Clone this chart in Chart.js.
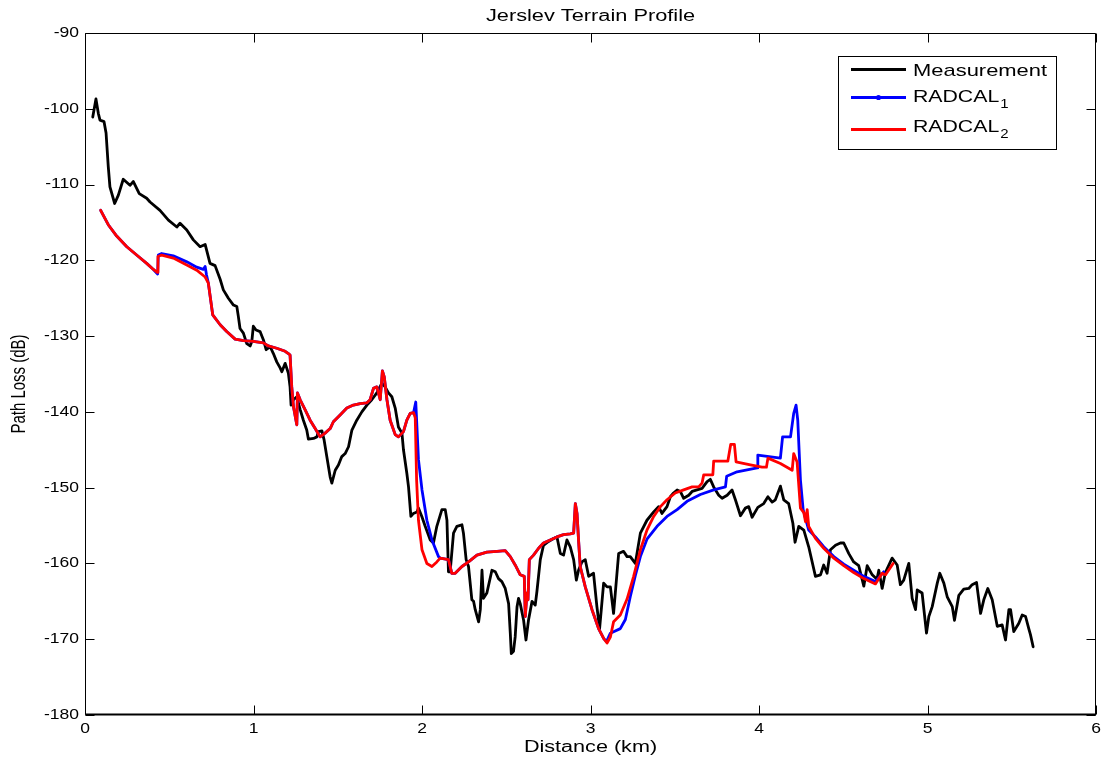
<!DOCTYPE html>
<html>
<head>
<meta charset="utf-8">
<title>Jerslev Terrain Profile</title>
<script src="https://cdn.jsdelivr.net/npm/chart.js@4.4.1/dist/chart.umd.min.js"></script>
<style>
  html, body { margin: 0; padding: 0; background: #fff; }
  #wrap { width: 1109px; height: 765px; }
</style>
</head>
<body>
<div id="wrap"><canvas id="c" width="1109" height="765"></canvas></div>
<script>
// Measured path loss along the Jerslev route
const measDist = [
  0.046,0.065,0.079,0.089,0.113,0.125,0.138,0.148,0.176,0.198,
  0.227,0.267,0.287,0.322,0.366,0.386,0.445,0.495,0.545,0.564,
  0.604,0.643,0.683,0.713,0.742,0.772,0.802,0.821,0.851,0.881,
  0.901,0.910,0.920,0.940,0.960,0.980,0.990,0.999,1.015,1.039,
  1.059,1.075,1.099,1.118,1.138,1.158,1.168,1.188,1.207,1.217,
  1.223,1.237,1.257,1.277,1.296,1.316,1.326,1.356,1.376,1.385,
  1.406,1.419,1.435,1.455,1.465,1.485,1.504,1.524,1.544,1.564,
  1.584,1.613,1.643,1.673,1.702,1.732,1.762,1.781,1.801,1.821,
  1.841,1.860,1.881,1.890,1.910,1.920,1.934,1.949,1.970,1.979,
  1.999,2.019,2.049,2.068,2.088,2.118,2.138,2.148,2.157,2.167,
  2.187,2.207,2.237,2.246,2.262,2.276,2.296,2.306,2.316,2.336,
  2.346,2.356,2.365,2.385,2.415,2.435,2.454,2.474,2.494,2.514,
  2.524,2.530,2.543,2.553,2.564,2.573,2.583,2.603,2.617,2.632,
  2.653,2.672,2.682,2.702,2.721,2.751,2.781,2.801,2.821,2.840,
  2.860,2.880,2.900,2.916,2.929,2.949,2.969,2.989,3.018,3.038,
  3.054,3.078,3.098,3.118,3.137,3.167,3.196,3.217,3.236,3.266,
  3.296,3.335,3.375,3.404,3.424,3.454,3.474,3.493,3.514,3.533,
  3.553,3.583,3.603,3.632,3.662,3.692,3.711,3.731,3.761,3.781,
  3.811,3.840,3.860,3.890,3.919,3.939,3.959,3.993,4.028,4.053,
  4.078,4.097,4.127,4.147,4.176,4.201,4.214,4.236,4.266,4.295,
  4.335,4.365,4.384,4.404,4.424,4.454,4.483,4.503,4.533,4.562,
  4.592,4.622,4.642,4.672,4.700,4.711,4.731,4.750,4.790,4.820,
  4.839,4.859,4.889,4.909,4.929,4.939,4.968,4.994,5.008,5.028,
  5.058,5.073,5.097,5.117,5.147,5.160,5.186,5.215,5.245,5.265,
  5.291,5.315,5.334,5.358,5.384,5.414,5.443,5.463,5.483,5.493,
  5.512,5.542,5.562,5.582,5.601,5.611,5.627
];
const measLoss = [
  -101.1,-98.7,-100.6,-101.5,-101.7,-103.2,-107.6,-110.3,-112.5,-111.4,
  -109.3,-110.1,-109.6,-111.2,-111.8,-112.3,-113.4,-114.7,-115.6,-115.1,
  -116.0,-117.3,-118.2,-117.9,-120.4,-120.7,-122.5,-123.9,-125.0,-125.9,
  -126.1,-127.4,-129.0,-129.6,-131.0,-131.3,-130.7,-128.7,-129.2,-129.4,
  -130.5,-131.8,-131.4,-132.3,-133.4,-134.2,-134.7,-133.6,-134.9,-136.7,
  -139.1,-138.4,-138.0,-139.7,-141.1,-142.4,-143.6,-143.5,-143.3,-142.6,
  -142.5,-143.7,-145.9,-148.6,-149.4,-147.7,-147.0,-145.9,-145.5,-144.6,
  -142.4,-141.1,-140.0,-139.1,-138.4,-137.5,-136.2,-136.7,-137.5,-138.0,
  -139.5,-142.0,-142.8,-145.0,-148.1,-149.9,-153.8,-153.4,-153.2,-152.7,
  -153.8,-155.1,-156.9,-157.3,-155.1,-152.9,-152.9,-154.3,-161.1,-161.1,
  -156.0,-155.1,-154.9,-156.0,-159.5,-160.4,-164.8,-165.0,-166.1,-167.7,
  -166.1,-160.9,-164.6,-163.9,-160.9,-161.1,-162.0,-162.4,-163.3,-165.3,
  -169.2,-171.9,-171.6,-169.7,-165.7,-164.6,-165.3,-167.5,-170.1,-167.5,
  -165.0,-165.5,-163.7,-159.5,-157.6,-157.1,-156.7,-156.5,-158.7,-158.9,
  -156.9,-157.8,-159.5,-162.2,-160.9,-159.8,-159.5,-161.7,-161.3,-165.7,
  -168.6,-162.6,-163.1,-163.1,-166.6,-158.7,-158.4,-159.1,-159.1,-160.0,
  -156.0,-154.3,-153.2,-152.5,-153.4,-152.5,-151.2,-150.7,-150.3,-150.5,
  -151.4,-151.0,-150.5,-150.3,-150.1,-149.2,-148.9,-149.9,-151.0,-151.4,
  -151.0,-150.3,-151.6,-153.7,-152.7,-152.5,-153.9,-152.6,-152.1,-151.2,
  -151.9,-151.6,-149.8,-151.6,-152.1,-154.7,-157.2,-155.1,-155.6,-157.8,
  -161.7,-161.5,-160.2,-161.3,-158.2,-157.6,-157.3,-157.3,-158.7,-159.8,
  -160.3,-163.0,-160.3,-161.5,-162.1,-160.9,-163.3,-161.2,-159.3,-160.2,
  -162.8,-162.2,-160.0,-164.6,-166.1,-163.5,-163.9,-169.2,-167.0,-165.7,
  -162.6,-161.3,-162.6,-164.4,-165.7,-167.5,-164.2,-163.4,-163.3,-162.8,
  -162.5,-166.6,-164.8,-163.3,-164.8,-168.3,-168.1,-170.1,-166.1,-166.1,
  -169.0,-167.9,-166.8,-167.0,-168.6,-169.4,-171.0
];

// RADCAL prediction, variant 1
const rad1Dist = [
  0.093,0.138,0.188,0.248,0.317,0.366,0.406,0.431,0.435,0.455,
  0.524,0.604,0.663,0.702,0.713,0.721,0.732,0.758,0.802,0.841,
  0.891,0.940,0.999,1.059,1.088,1.138,1.188,1.207,1.217,1.227,
  1.237,1.257,1.261,1.277,1.306,1.336,1.366,1.395,1.425,1.455,
  1.474,1.514,1.554,1.593,1.633,1.673,1.692,1.712,1.732,1.752,
  1.765,1.776,1.792,1.811,1.841,1.860,1.890,1.910,1.930,1.950,
  1.963,1.979,2.000,2.029,2.059,2.098,2.108,2.157,2.177,2.197,
  2.237,2.276,2.326,2.385,2.445,2.494,2.524,2.553,2.583,2.607,
  2.613,2.623,2.629,2.637,2.662,2.692,2.721,2.761,2.801,2.840,
  2.880,2.900,2.910,2.920,2.929,2.939,2.969,3.009,3.048,3.078,
  3.095,3.118,3.137,3.177,3.207,3.236,3.266,3.296,3.335,3.395,
  3.454,3.514,3.573,3.652,3.731,3.801,3.808,3.870,3.989,3.993,
  4.127,4.140,4.187,4.206,4.220,4.230,4.246,4.262,4.295,4.335,
  4.384,4.444,4.503,4.562,4.622,4.691,4.740
];
const rad1Loss = [
  -113.4,-115.3,-116.8,-118.2,-119.5,-120.4,-121.2,-121.8,-119.3,-119.1,
  -119.4,-120.2,-120.9,-121.2,-120.8,-121.9,-123.0,-127.2,-128.5,-129.4,
  -130.4,-130.6,-130.7,-130.9,-131.3,-131.6,-132.0,-132.3,-132.5,-136.7,
  -139.3,-141.7,-137.5,-138.4,-139.7,-141.1,-142.2,-143.3,-142.8,-142.2,
  -141.3,-140.4,-139.5,-139.1,-138.9,-138.8,-138.4,-136.9,-136.7,-138.4,
  -134.6,-135.4,-138.4,-141.1,-143.0,-143.3,-142.6,-141.1,-140.2,-140.1,
  -138.7,-146.3,-150.3,-154.3,-156.9,-159.1,-159.3,-159.5,-161.3,-161.3,
  -160.4,-159.8,-158.9,-158.5,-158.4,-158.3,-159.1,-160.2,-161.5,-161.7,
  -167.0,-163.9,-164.8,-159.5,-158.9,-158.0,-157.3,-156.9,-156.5,-156.2,
  -156.1,-156.0,-152.1,-153.4,-156.9,-160.4,-163.1,-166.1,-168.6,-169.9,
  -170.3,-169.2,-169.0,-168.6,-167.4,-164.4,-161.6,-159.1,-156.8,-155.1,
  -153.8,-152.9,-151.8,-150.9,-150.3,-149.9,-148.5,-147.9,-147.4,-145.7,
  -146.1,-143.3,-143.3,-140.2,-139.1,-141.1,-149.0,-152.9,-155.6,-156.5,
  -157.8,-159.1,-160.1,-160.9,-161.7,-162.4,-161.1
];

// RADCAL prediction, variant 2
const rad2Dist = [
  0.093,0.138,0.188,0.248,0.317,0.366,0.406,0.429,0.433,0.455,
  0.524,0.604,0.663,0.713,0.732,0.758,0.802,0.841,0.891,0.940,
  0.999,1.059,1.088,1.138,1.188,1.207,1.217,1.227,1.237,1.257,
  1.261,1.277,1.306,1.336,1.366,1.395,1.425,1.455,1.474,1.514,
  1.554,1.593,1.633,1.673,1.692,1.712,1.732,1.752,1.765,1.776,
  1.792,1.811,1.841,1.860,1.890,1.910,1.930,1.950,1.960,1.968,
  1.979,2.000,2.029,2.059,2.088,2.108,2.157,2.177,2.197,2.237,
  2.276,2.326,2.385,2.445,2.494,2.524,2.553,2.583,2.607,2.613,
  2.623,2.629,2.637,2.662,2.692,2.721,2.761,2.801,2.840,2.880,
  2.900,2.910,2.920,2.929,2.939,2.969,3.009,3.048,3.078,3.098,
  3.118,3.137,3.177,3.217,3.256,3.296,3.335,3.375,3.415,3.454,
  3.503,3.553,3.603,3.642,3.662,3.672,3.726,3.731,3.815,3.832,
  3.854,3.864,3.949,4.018,4.044,4.053,4.127,4.197,4.206,4.226,
  4.246,4.266,4.276,4.286,4.295,4.335,4.384,4.444,4.503,4.562,
  4.622,4.691,4.731,4.751,4.796
];
const rad2Loss = [
  -113.4,-115.3,-116.8,-118.2,-119.5,-120.4,-121.2,-121.6,-119.5,-119.3,
  -119.7,-120.6,-121.3,-122.2,-123.0,-127.2,-128.5,-129.4,-130.4,-130.6,
  -130.7,-130.9,-131.3,-131.6,-132.0,-132.3,-132.5,-136.7,-139.3,-141.7,
  -137.5,-138.4,-139.7,-141.1,-142.2,-143.3,-142.8,-142.2,-141.3,-140.4,
  -139.5,-139.1,-138.9,-138.8,-138.4,-136.9,-136.7,-138.4,-134.6,-135.4,
  -138.4,-141.1,-143.0,-143.3,-142.6,-141.1,-140.2,-140.1,-140.8,-149.0,
  -154.3,-158.2,-160.0,-160.4,-159.8,-159.3,-159.5,-161.3,-161.3,-160.4,
  -159.8,-158.9,-158.5,-158.4,-158.3,-159.1,-160.2,-161.5,-161.7,-167.0,
  -163.9,-164.8,-159.5,-158.9,-158.0,-157.3,-156.9,-156.5,-156.2,-156.1,
  -156.0,-152.1,-153.4,-156.9,-160.4,-163.1,-166.1,-168.6,-169.9,-170.5,
  -169.7,-167.7,-166.8,-164.7,-161.7,-158.2,-155.6,-153.8,-152.5,-151.6,
  -150.7,-150.3,-149.9,-149.9,-149.4,-148.3,-148.3,-146.5,-146.5,-144.3,
  -144.3,-146.6,-147.0,-147.3,-147.3,-146.1,-146.8,-147.7,-145.5,-146.6,
  -152.7,-153.3,-154.5,-152.9,-155.1,-156.7,-158.0,-159.3,-160.3,-161.2,
  -162.0,-162.7,-161.3,-161.5,-160.0
];

// Axis ticks
const xTicks = [0, 1, 2, 3, 4, 5, 6];
const yTicks = [-180, -170, -160, -150, -140, -130, -120, -110, -100, -90];

const FONT = '"Liberation Sans", Arial, Helvetica, sans-serif';

function toPoints(xs, ys) {
  return xs.map((x, i) => ({ x: x, y: ys[i] }));
}

// text drawn with a horizontal stretch factor sx
function wideText(ctx, str, x, y, size, align, sx) {
  ctx.save();
  ctx.translate(x, y);
  ctx.scale(sx, 1);
  ctx.font = size + 'px ' + FONT;
  ctx.textAlign = align;
  ctx.textBaseline = 'middle';
  ctx.fillStyle = '#000';
  ctx.fillText(str, 0, 0);
  ctx.restore();
}

// label with a numeric subscript, left aligned
function subText(ctx, main, sub, x, y, size, subSize, sx) {
  ctx.save();
  ctx.font = size + 'px ' + FONT;
  const w = ctx.measureText(main).width * sx;
  ctx.restore();
  wideText(ctx, main, x, y, size, 'left', sx);
  wideText(ctx, sub, x + w + 1, y + 7, subSize, 'left', sx);
}

const axesDecor = {
  id: 'axesDecor',
  afterDraw(chart) {
    const ctx = chart.ctx;
    const a = chart.chartArea;
    const xs = chart.scales.x, ys = chart.scales.y;
    const L = Math.round(a.left) + 0.5, R = Math.round(a.right) - 0.5;
    const T = Math.round(a.top) + 0.5, B = Math.round(a.bottom) - 0.5;
    const tl = 9;

    ctx.save();
    ctx.strokeStyle = '#000';
    ctx.lineWidth = 1;
    ctx.beginPath();
    ctx.rect(L, T, R - L, B - T);
    ctx.stroke();
    // heavier baseline
    ctx.lineWidth = 2;
    ctx.beginPath();
    ctx.moveTo(L, B); ctx.lineTo(R + 0.5, B);
    ctx.stroke();

    // inward ticks on all four sides
    ctx.lineWidth = 1;
    ctx.beginPath();
    xTicks.forEach(v => {
      const px = Math.round(xs.getPixelForValue(v)) + 0.5;
      ctx.moveTo(px, B); ctx.lineTo(px, B - tl);
      ctx.moveTo(px, T); ctx.lineTo(px, T + tl);
    });
    yTicks.forEach(v => {
      const py = Math.round(ys.getPixelForValue(v)) + 0.5;
      ctx.moveTo(L, py); ctx.lineTo(L + tl, py);
      ctx.moveTo(R, py); ctx.lineTo(R - tl, py);
    });
    ctx.stroke();
    ctx.restore();

    // tick labels
    xTicks.forEach(v => {
      wideText(ctx, String(v), xs.getPixelForValue(v), a.bottom + 14, 14, 'center', 1.25);
    });
    yTicks.forEach(v => {
      wideText(ctx, String(v), a.left - 6, ys.getPixelForValue(v), 14, 'right', 1.25);
    });

    // title and axis titles
    const cx = (a.left + a.right) / 2;
    wideText(ctx, 'Jerslev Terrain Profile', cx, 17, 16, 'center', 1.36);
    wideText(ctx, 'Distance (km)', cx, a.bottom + 33, 16, 'center', 1.35);

    ctx.save();
    ctx.translate(20, 384);
    ctx.rotate(-Math.PI / 2);
    ctx.scale(1, 1.3);
    ctx.font = '15px ' + FONT;
    ctx.textAlign = 'center';
    ctx.textBaseline = 'middle';
    ctx.fillStyle = '#000';
    ctx.fillText('Path Loss (dB)', 0, 0);
    ctx.restore();

    // legend
    const bx = 838.5, by = 56.5, bw = 218, bh = 93;
    ctx.save();
    ctx.fillStyle = '#fff';
    ctx.fillRect(bx, by, bw, bh);
    ctx.strokeStyle = '#000';
    ctx.lineWidth = 1;
    ctx.strokeRect(bx, by, bw, bh);
    const rows = [
      { color: '#000000', ly: 69.5, ty: 71, dot: false },
      { color: '#0000ff', ly: 97.5, ty: 97.5, dot: true },
      { color: '#ff0000', ly: 129.5, ty: 127.5, dot: false }
    ];
    rows.forEach(r => {
      ctx.strokeStyle = r.color;
      ctx.lineWidth = 2.8;
      ctx.beginPath();
      ctx.moveTo(851, r.ly); ctx.lineTo(906, r.ly);
      ctx.stroke();
      if (r.dot) {
        ctx.fillStyle = r.color;
        ctx.beginPath();
        ctx.arc(878.5, r.ly, 2.6, 0, Math.PI * 2);
        ctx.fill();
      }
    });
    ctx.restore();
    wideText(ctx, 'Measurement', 913, rows[0].ty, 17, 'left', 1.29);
    subText(ctx, 'RADCAL', '1', 913, rows[1].ty, 17, 12, 1.25);
    subText(ctx, 'RADCAL', '2', 913, rows[2].ty, 17, 12, 1.25);
  }
};

new Chart(document.getElementById('c'), {
  type: 'line',
  data: {
    datasets: [
      { label: 'Measurement', data: toPoints(measDist, measLoss), borderColor: '#000000', order: 2 },
      { label: 'RADCAL1', data: toPoints(rad1Dist, rad1Loss), borderColor: '#0000ff', order: 1 },
      { label: 'RADCAL2', data: toPoints(rad2Dist, rad2Loss), borderColor: '#ff0000', order: 0 }
    ]
  },
  options: {
    responsive: false,
    animation: false,
    devicePixelRatio: 1,
    parsing: false,
    layout: { padding: { left: 85, right: 13, top: 33, bottom: 50 } },
    elements: {
      point: { radius: 0, hoverRadius: 0 },
      line: { tension: 0, borderWidth: 2.8, borderJoinStyle: 'round', borderCapStyle: 'round', fill: false }
    },
    scales: {
      x: { type: 'linear', min: 0, max: 6, display: false, ticks: { stepSize: 1 } },
      y: { type: 'linear', min: -180, max: -90, display: false, ticks: { stepSize: 10 } }
    },
    plugins: {
      legend: { display: false },
      tooltip: { enabled: false },
      title: { display: false }
    }
  },
  plugins: [axesDecor]
});
</script>
</body>
</html>
